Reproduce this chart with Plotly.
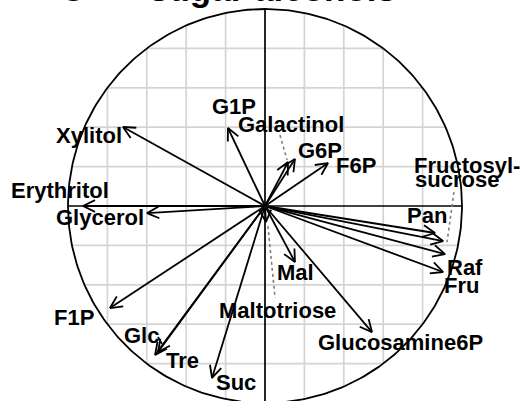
import numpy as np
import plotly.graph_objects as go

# Variable loadings (correlation circle coordinates)
names = ["Xylitol", "G1P", "Galactinol", "G6P", "F6P", "Erythritol", "Glycerol",
         "Pan", "Fructosylsucrose", "Raf", "Fru", "Mal", "Maltotriose",
         "Glucosamine6P", "F1P", "Glc", "Tre", "Suc"]
dim1 = [-0.721, -0.188, 0.117, 0.152, 0.320, -0.924, -0.599,
        0.863, 0.904, 0.914, 0.904, 0.152, 0.005,
        0.543, -0.787, -0.543, -0.558, -0.269]
dim2 = [0.401, 0.396, 0.223, 0.239, 0.218, 0.000, -0.036,
        -0.137, -0.178, -0.244, -0.335, -0.284, -0.081,
        -0.640, -0.518, -0.741, -0.756, -0.873]

# Label text and placement (repelled positions)
label_text = ["Xylitol", "G1P", "Galactinol", "G6P", "F6P", "Erythritol", "Glycerol",
              "Pan", "Fructosyl-", "Raf", "Fru", "Mal", "Maltotriose",
              "Glucosamine6P", "F1P", "Glc", "Tre", "Suc"]
label_x = [-0.891, -0.157, 0.132, 0.279, 0.462, -1.043, -0.838,
           0.820, 0.746, 1.013, 0.997, 0.155, 0.063,
           0.690, -0.970, -0.627, -0.421, -0.147]
label_y = [0.360, 0.503, 0.412, 0.284, 0.208, 0.081, -0.058,
           -0.046, 0.208, -0.310, -0.404, -0.338, -0.528,
           -0.693, -0.566, -0.657, -0.784, -0.896]
label_anchor = ["center"] * 8 + ["left"] + ["center"] * 9
extra_text = [("sucrose", 0.751, 0.135, "left")]

# Leader segments joining displaced labels to their arrows
leaders = [
    ((0.076, 0.360), (0.112, 0.234)),    # Galactinol
    ((0.959, 0.071), (0.924, -0.183)),   # Fructosylsucrose
    ((0.015, -0.102), (0.051, -0.467)),  # Maltotriose
]
short_leaders = [((-0.543, -0.665), (-0.523, -0.700))]  # Glc

grid_steps = [-0.8, -0.6, -0.4, -0.2, 0.2, 0.4, 0.6, 0.8]

fig = go.Figure()

# grid clipped to the unit circle
gx, gy = [], []
for g in grid_steps:
    h = np.sqrt(1 - g * g)
    gx += [g, g, None, -h, h, None]
    gy += [-h, h, None, g, g, None]
fig.add_trace(go.Scatter(x=gx, y=gy, mode="lines",
                         line=dict(color="#d4d4d4", width=1.7), hoverinfo="skip"))

# axes through the origin
fig.add_trace(go.Scatter(x=[-1, 1, None, 0, 0], y=[0, 0, None, -1, 1], mode="lines",
                         line=dict(color="black", width=1.7), hoverinfo="skip"))

# unit circle
t = np.linspace(0, 2 * np.pi, 361)
fig.add_trace(go.Scatter(x=np.cos(t), y=np.sin(t), mode="lines",
                         line=dict(color="black", width=1.8), hoverinfo="skip"))

# leader lines
lx, ly = [], []
for (a, b) in leaders:
    lx += [a[0], b[0], None]
    ly += [a[1], b[1], None]
fig.add_trace(go.Scatter(x=lx, y=ly, mode="lines",
                         line=dict(color="#7f7f7f", width=1.6, dash="dot"), hoverinfo="skip"))
sx, sy = [], []
for (a, b) in short_leaders:
    sx += [a[0], b[0], None]
    sy += [a[1], b[1], None]
fig.add_trace(go.Scatter(x=sx, y=sy, mode="lines",
                         line=dict(color="black", width=1.8), hoverinfo="skip"))

# arrows: shafts plus open heads
head_len = 0.068
head_ang = np.deg2rad(26)
ax, ay = [], []
for x, y in zip(dim1, dim2):
    th = np.arctan2(y, x)
    ax += [0, x, None]
    ay += [0, y, None]
    ax += [x - head_len * np.cos(th + head_ang), x, x - head_len * np.cos(th - head_ang), None]
    ay += [y - head_len * np.sin(th + head_ang), y, y - head_len * np.sin(th - head_ang), None]
fig.add_trace(go.Scatter(x=ax, y=ay, mode="lines",
                         line=dict(color="black", width=1.8), hoverinfo="skip"))

label_font = dict(family="Liberation Sans, Arial, sans-serif", size=22, color="black", weight="bold")
for txt, x, y, anc in zip(label_text, label_x, label_y, label_anchor):
    fig.add_annotation(x=x, y=y, text=txt, showarrow=False, font=label_font,
                       xanchor=anc, yanchor="middle")
for txt, x, y, anc in extra_text:
    fig.add_annotation(x=x, y=y, text=txt, showarrow=False, font=label_font,
                       xanchor=anc, yanchor="middle")

# panel heading
title_font = dict(family="Liberation Sans, Arial, sans-serif", size=35, color="black", weight="bold")
fig.add_annotation(x=-1.052, y=0.995, text="C", showarrow=False, font=title_font,
                   xanchor="left", yanchor="bottom")
fig.add_annotation(x=-0.599, y=0.995, text="sugar alcohols", showarrow=False, font=title_font,
                   xanchor="left", yanchor="bottom")

fig.update_layout(
    width=520, height=401,
    margin=dict(l=0, r=0, t=0, b=0),
    paper_bgcolor="white", plot_bgcolor="white",
    showlegend=False,
    xaxis=dict(range=[-1.3452, 1.2944], visible=False, fixedrange=True),
    yaxis=dict(range=[-0.9898, 1.0457], visible=False, fixedrange=True),
)

fig.write_html("out.html")
